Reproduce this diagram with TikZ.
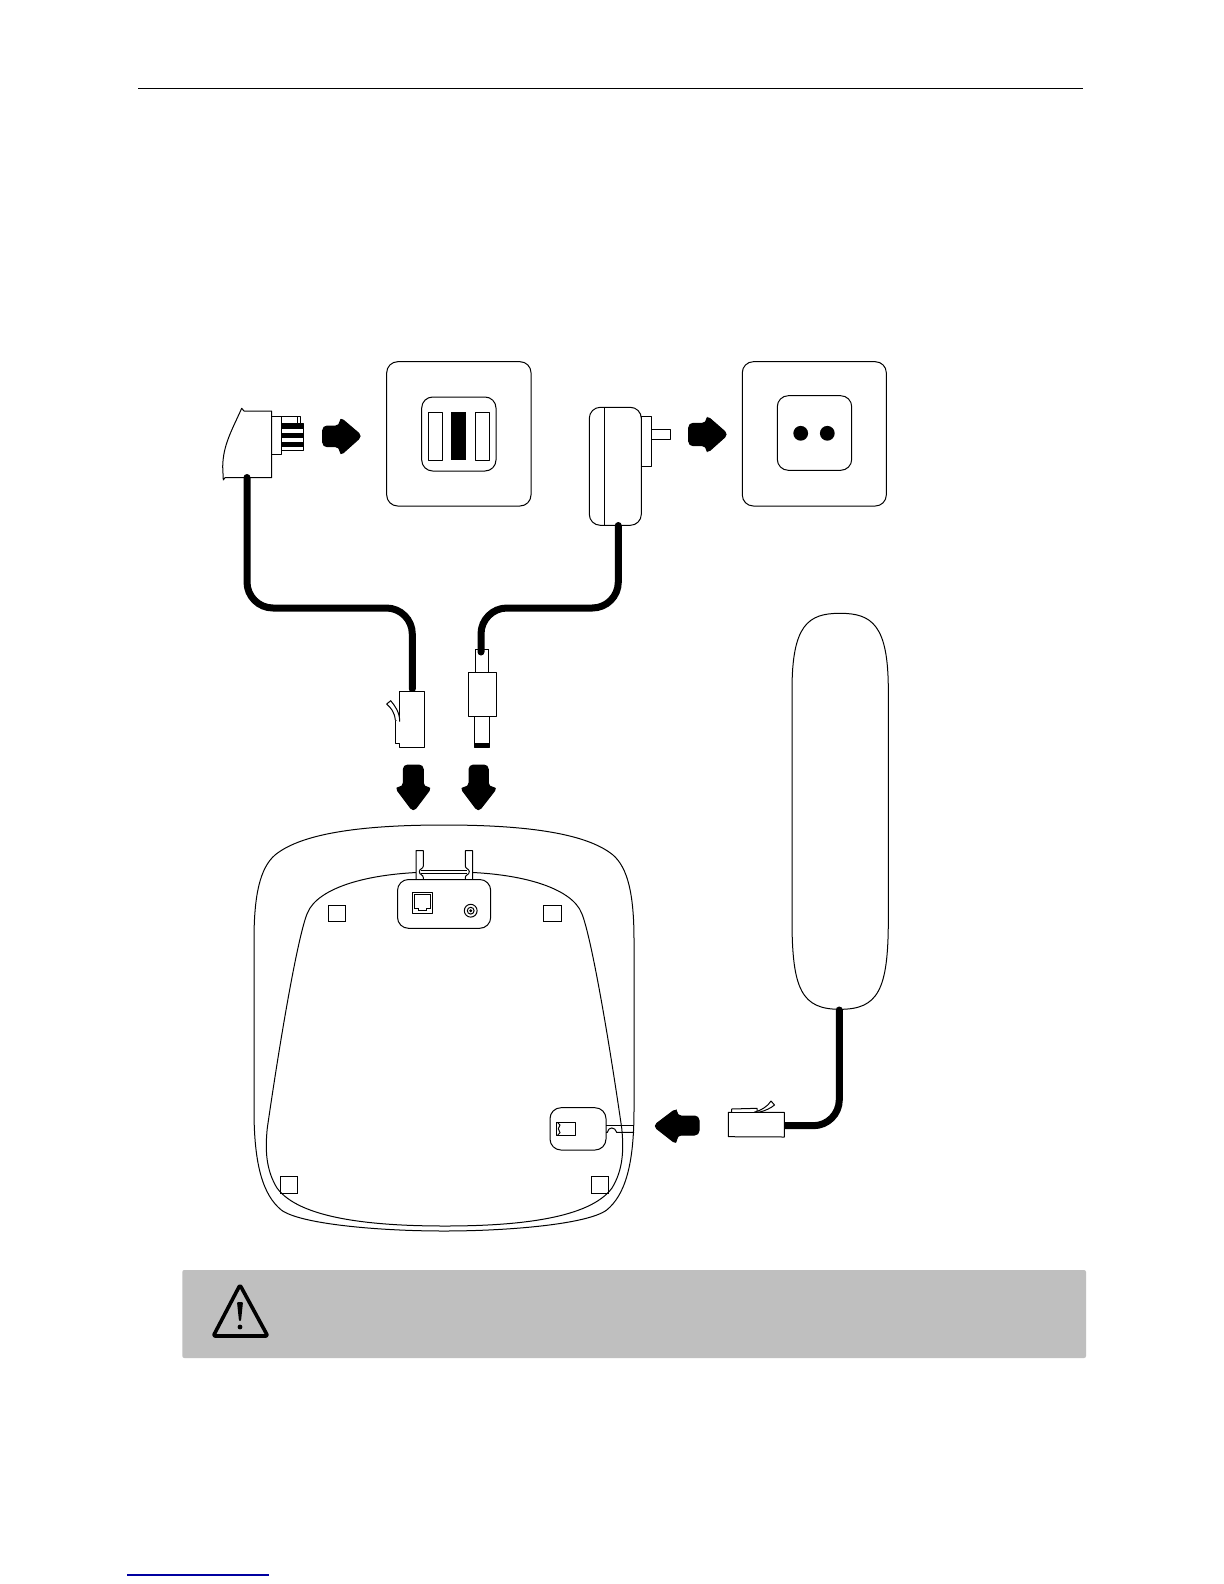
\documentclass[tikz,border=0pt]{standalone}
\begin{document}
\begin{tikzpicture}[x=0.5pt,y=-0.5pt,
  outl/.style={draw=black,line width=0.5pt,fill=white,line join=round},
  thin line/.style={draw=black,line width=0.5pt},
  roundbox/.style={outl,rounded corners=5.5pt},
  cable/.style={draw=black,line width=3.5pt,line cap=round,rounded corners=13pt},
  blockarrow/.style={fill=black,draw=black,line width=0.5pt,rounded corners=2.2pt}]
\useasboundingbox (0,0) rectangle (1224,1584);
\fill[white] (0,0) rectangle (1224,1584);
% header rule and footer link rule
\draw[black,line width=0.45pt] (138,88) -- (1083,88);
\draw[color={rgb,255:red,0;green,0;blue,160},line width=0.7pt] (127.3,1575) -- (269,1575);

% wall plate, telephone socket
\draw[roundbox] (386.7,361.7) rectangle (531,506);
\draw[roundbox] (421.7,397) rectangle (496,471);
\draw[outl] (428.3,412.3) rectangle (442.7,460.3);
\fill[black] (451,412.3) rectangle (466,460.3);
\draw[outl] (475,412.3) rectangle (489.7,460.3);

% wall plate, power socket
\draw[roundbox] (742.3,361.7) rectangle (886.3,506);
\draw[roundbox] (777.3,395.7) rectangle (851.7,470.3);
\fill[black] (800.7,433.3) circle (3.7pt);
\fill[black] (827.3,433.3) circle (3.7pt);

% telephone wall plug
\draw[outl] (271.7,416.7) rectangle (281.7,454.3);
\draw[outl] (281.7,416) -- (300,416) -- (300,423) -- (281.7,423) -- cycle;
\draw[thin line] (297.5,416) -- (297.5,423);
\draw[outl] (281.7,423) rectangle (303.3,450);
\fill[black] (281.7,423) rectangle (303.3,428.5);
\fill[black] (281.7,432.5) rectangle (303.3,438);
\fill[black] (281.7,441.5) rectangle (303.3,447);
\draw[outl] (241.7,408.3) -- (244,411) -- (271.7,411) -- (271.7,477.7) -- (225,477.7)
  -- (223.3,480) -- (222.7,466.7) .. controls (223,445) and (232,430) .. cycle;

% power adapter
\draw[outl] (641.3,416.3) rectangle (651.7,466.7);
\draw[outl] (651.7,429) rectangle (670.7,439.7);
\draw[roundbox] (589.3,407.3) rectangle (641.3,525.3);
\draw[thin line] (604.7,407.3) -- (604.7,525.3);

% cables
\draw[cable] (247,477.5) -- (247,608) -- (412.3,608) -- (412.3,689);
\draw[cable] (618.3,525.5) -- (618.3,608) -- (481,608) -- (481,652);

% RJ plug above the base
\draw[outl] (399.3,691) -- (424.3,691) -- (424.3,747.3) -- (399.3,747.3) -- (399.3,743.7)
  -- (395.3,743.7) -- (395.3,720) -- (399.3,720) -- cycle;
\draw[outl] (399.7,721.7) .. controls (399.7,712) and (395,706) .. (390.7,700.7)
  -- (386.7,704) .. controls (391,708) and (394.5,712) .. (395.3,720);

% DC plug above the base
\draw[outl] (474.3,716.3) rectangle (489.7,747.3);
\fill[black] (474.3,743.3) rectangle (489.7,747.3);
\draw[outl] (468.3,672.3) rectangle (496.3,716.3);
\draw[thin line] (475.3,672.3) -- (475.3,649.3) -- (488.3,649.3) -- (488.3,672.3);

% arrows
\fill[blockarrow] (322.7,426) -- (340,426) -- (340,417.3) -- (362,436) -- (340,455.7)
  -- (340,446.7) -- (322.7,446.7) -- cycle;
\fill[blockarrow] (688.7,423.3) -- (706.7,423.3) -- (706.7,415.7) -- (728,434.3) -- (706.7,453.3)
  -- (706.7,445.7) -- (688.7,445.7) -- cycle;
\fill[blockarrow] (403.3,765) -- (423.3,765) -- (423.3,787.3) -- (431.7,787.3) -- (413.3,811.7)
  -- (395,787.3) -- (403.3,787.3) -- cycle;
\fill[blockarrow] (469,765) -- (488.3,765) -- (488.3,787.3) -- (497.3,787.3) -- (478.3,811.7)
  -- (460,787.3) -- (469,787.3) -- cycle;
\fill[blockarrow] (699,1116) -- (676.7,1116) -- (676.7,1108.3) -- (653.3,1126) -- (676.7,1144.3)
  -- (676.7,1135) -- (699,1135) -- cycle;

% base, outer and inner contours
\draw[outl] (444,825) .. controls (520,825) and (585,832) .. (613,855)
  .. controls (628,868) and (634,895) .. (634,940) -- (634,1110)
  .. controls (634,1165) and (625,1195) .. (606.7,1210)
  .. controls (588,1224) and (510,1231) .. (444,1231)
  .. controls (378,1231) and (300,1224) .. (281.3,1210)
  .. controls (263,1195) and (254,1165) .. (254,1110) -- (254,940)
  .. controls (254,895) and (260,868) .. (275,855)
  .. controls (303,832) and (368,825) .. cycle;
\draw[outl] (445,872) .. controls (520,871) and (572,888) .. (581.7,913.3)
  .. controls (590,933) and (606,1020) .. (621.7,1128)
  .. controls (624,1150) and (623,1170) .. (612,1188)
  .. controls (590,1218) and (520,1226) .. (445,1226)
  .. controls (369,1226) and (299,1218) .. (277,1188)
  .. controls (266,1170) and (265,1150) .. (267.3,1128)
  .. controls (283,1020) and (299,933) .. (307.3,913.3)
  .. controls (317,888) and (369,871) .. cycle;

% feet
\draw[thin line] (328.3,905) rectangle (345.3,921.7);
\draw[thin line] (543.7,905) rectangle (561,921.7);
\draw[thin line] (280.7,1176.7) rectangle (297.7,1193.3);
\draw[thin line] (591.3,1176.7) rectangle (608,1193.3);

% cable channel at the top of the base
\fill[white] (416,868) rectangle (472.7,879.7);
\draw[outl] (416,879.7) -- (416,850.7) -- (423.3,850.7) -- (423.3,866)
  .. controls (423.3,869) and (419.3,868.5) .. (419.3,871.7)
  .. controls (419.3,875) and (423.3,874.5) .. (423.3,877.5) -- (423.3,879.7);
\draw[outl] (472.7,879.7) -- (472.7,850.7) -- (465.3,850.7) -- (465.3,866)
  .. controls (465.3,869) and (469.3,868.5) .. (469.3,871.7)
  .. controls (469.3,875) and (465.3,874.5) .. (465.3,877.5) -- (465.3,879.7);
\draw[thin line] (421.3,870) -- (467.3,870);
\draw[thin line] (421.3,873.3) -- (467.3,873.3);

% rear port panel
\draw[roundbox] (397.5,879.5) rectangle (490.7,928.3);
\draw[outl] (412.3,892.3) rectangle (432.3,913.7);
\draw[thin line] (414,908.3) -- (414,894.3) -- (430.7,894.3) -- (430.7,908.3) -- (426.7,908.3)
  -- (426.7,910.7) -- (418.3,910.7) -- (418.3,908.3) -- cycle;
\draw[thin line] (470.7,910.7) circle (3.2pt);
\draw[thin line] (470.7,910.7) circle (1.7pt);
\fill[black] (470.7,910.7) circle (0.8pt);

% handset port
\draw[roundbox] (550,1107.7) rectangle (606,1150);
\draw[outl] (556,1122.7) rectangle (575.3,1135);
\draw[thin line] (557.7,1122.7) -- (560,1125) -- (558.3,1128.7) -- (560,1132.7) -- (557.7,1135);
\draw[thin line] (606,1125) -- (634,1125);
\draw[thin line] (606,1132.3) -- (607.3,1132.3) .. controls (608.5,1126.5) and (615,1126.5) .. (616.7,1132.3) -- (634,1132.3);

% handset
\draw[outl] (840,613.3) .. controls (872,613.3) and (888.3,625) .. (888.3,690) -- (888.3,920)
  .. controls (888.3,990) and (878,1009.3) .. (840,1009.3)
  .. controls (802,1009.3) and (792,990) .. (792,920) -- (792,690)
  .. controls (792,625) and (808,613.3) .. cycle;
\draw[cable] (839.3,1010) -- (839.3,1125.7) -- (784.3,1125.7);

% RJ plug of the handset
\draw[outl] (728.3,1136.7) -- (728.3,1112.3) -- (731.7,1112.3) -- (731.7,1109) -- (757,1108.3)
  -- (757,1112.3) -- (784.3,1112.3) -- (784.3,1137) -- cycle;
\draw[outl] (754,1112.3) .. controls (762,1110) and (768,1106) .. (771,1101)
  -- (774.5,1105) .. controls (771,1108) and (765,1111) .. (758.5,1112.3);
\draw[thin line] (731.7,1112.3) -- (784.3,1112.3);

% warning band
\fill[color={rgb,255:red,191;green,191;blue,191},rounded corners=1pt] (182.3,1270) rectangle (1086,1358);
\draw[black,line width=1.8pt,line join=round,rounded corners=1pt] (240,1285) -- (267.7,1336) -- (213.3,1336) -- cycle;
\fill[black,rounded corners=0.5pt] (237,1302) -- (243,1302) -- (241,1321) -- (239,1321) -- cycle;
\fill[black] (240,1327) circle (1.2pt);
\end{tikzpicture}
\end{document}
